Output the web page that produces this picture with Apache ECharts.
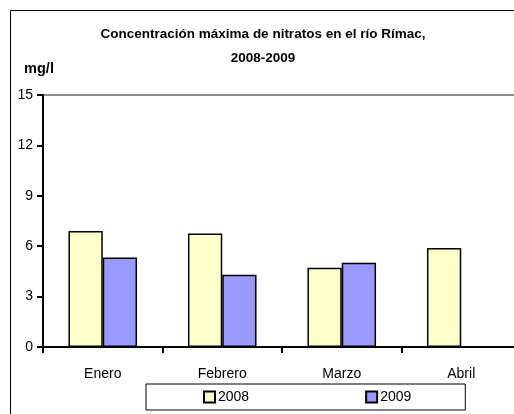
<!DOCTYPE html>
<html>
<head>
<meta charset="utf-8">
<script src="https://cdn.jsdelivr.net/npm/echarts@6/dist/echarts.min.js"></script>
<style>
  html, body { margin: 0; padding: 0; background: #fff; }
  #chart { width: 514px; height: 414px; }
</style>
</head>
<body>
<div id="chart"></div>
<script>
  // datos
  var months = ['Enero', 'Febrero', 'Marzo', 'Abril'];
  var values2008 = [6.9, 6.75, 4.72, 5.9];
  var values2009 = [5.32, 4.3, 5.02, null];
  var yTicks = { min: 0, max: 15, interval: 3 };

  var font = "'Liberation Sans', Arial, sans-serif";

  var myChart = echarts.init(document.getElementById('chart'));
  var option = {
    animation: false,
    backgroundColor: '#fff',
    textStyle: { fontFamily: font, color: '#000' },
    graphic: [{
      type: 'rect',
      shape: { x: 10.5, y: 10.5, width: 520, height: 420 },
      style: { fill: 'none', stroke: '#000', lineWidth: 1 },
      z: -1
    }],
    title: {
      text: 'Concentración máxima de nitratos en el río Rímac,\n2008-2009',
      left: 263,
      top: 22,
      padding: 0,
      textAlign: 'center',
      textStyle: {
        fontFamily: font,
        fontSize: 13.5,
        fontWeight: 'bold',
        color: '#000',
        lineHeight: 24
      }
    },
    legend: {
      data: ['2008', '2009'],
      left: 146,
      top: 384,
      padding: [6, 54, 6, 57],
      itemGap: 116,
      itemWidth: 11,
      itemHeight: 11,
      borderColor: '#000',
      borderWidth: 1,
      icon: 'rect',
      textStyle: { fontFamily: font, fontSize: 14, color: '#000', padding: [0, 0, 0, -2] }
    },
    grid: {
      left: 43,
      top: 95,
      width: 478,
      bottom: 67,
      outerBoundsMode: 'none'
    },
    xAxis: {
      type: 'category',
      data: months,
      axisLine: { lineStyle: { color: '#000', width: 2 } },
      axisTick: { show: true, length: 6, interval: 0, lineStyle: { color: '#000', width: 2 } },
      axisLabel: { fontSize: 14, color: '#000', margin: 20, fontFamily: font }
    },
    yAxis: {
      type: 'value',
      min: yTicks.min,
      max: yTicks.max,
      interval: yTicks.interval,
      name: 'mg/l',
      nameLocation: 'end',
      nameGap: 19,
      nameTextStyle: { fontFamily: font, fontSize: 14.5, fontWeight: 'bold', color: '#000', padding: [0, 8, 0, 0] },
      axisLine: { show: true, lineStyle: { color: '#000', width: 2 } },
      axisTick: { show: true, length: 6, lineStyle: { color: '#000', width: 2 } },
      axisLabel: { fontSize: 14, color: '#000', margin: 10, fontFamily: font },
      splitLine: {
        show: true,
        lineStyle: {
          color: ['rgba(0,0,0,0)', 'rgba(0,0,0,0)', 'rgba(0,0,0,0)', 'rgba(0,0,0,0)', 'rgba(0,0,0,0)', '#8c8c8c'],
          width: 2
        }
      }
    },
    series: [{
      name: '2008',
      type: 'bar',
      data: values2008,
      barWidth: '28.7%',
      barGap: '0%',
      itemStyle: { color: '#ffffcc', borderColor: '#000', borderWidth: 1.5 }
    }, {
      name: '2009',
      type: 'bar',
      data: values2009,
      barWidth: '28.7%',
      itemStyle: { color: '#9999ff', borderColor: '#000', borderWidth: 1.5 }
    }]
  };
  myChart.setOption(option);
</script>
</body>
</html>
